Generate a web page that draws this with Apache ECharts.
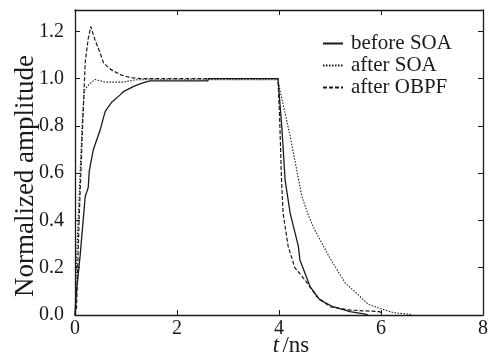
<!DOCTYPE html>
<html>
<head>
	<meta charset="utf-8">
	<title>pulse</title>
	<style>
		html, body { margin: 0; padding: 0; background: #fff; }
		#chart { width: 494px; height: 359px; }
	</style>
</head>
<body>
	<div id="chart"></div>
	<script src="https://cdn.jsdelivr.net/npm/echarts@6/dist/echarts.min.js"></script>
	<script>
		// tick labels
		var xTicks = [0, 2, 4, 6, 8];
		var yTicks = [0.0, 0.2, 0.4, 0.6, 0.8, 1.0, 1.2];

		// before SOA (solid)
		var tBefore = [0, 0.03, 0.1, 0.16, 0.2, 0.26, 0.28, 0.36, 0.49, 0.59, 0.72, 0.88, 0.95, 1.14, 1.3, 1.47, 2.6, 2.62, 3.98, 4.06, 4.12, 4.22, 4.38, 4.41, 4.51, 4.61, 4.8, 5.06, 5.39, 5.69, 5.75];
		var vBefore = [0, 0.1, 0.25, 0.40, 0.5, 0.54, 0.61, 0.70, 0.78, 0.86, 0.90, 0.93, 0.945, 0.966, 0.98, 0.99, 0.99, 1.0, 1.0, 0.78, 0.57, 0.43, 0.29, 0.233, 0.177, 0.12, 0.064, 0.035, 0.014, 0.004, 0];

		// after SOA (dotted)
		var tSoa = [0, 0.04, 0.1, 0.14, 0.18, 0.25, 0.39, 0.6, 0.95, 1.2, 3.98, 4.02, 4.22, 4.35, 4.45, 4.58, 4.7, 5.0, 5.3, 5.59, 5.75, 5.95, 6.24, 6.57, 6.6];
		var vSoa = [0, 0.29, 0.6, 0.8, 0.95, 0.97, 0.996, 0.985, 0.985, 0.995, 0.995, 0.95, 0.755, 0.61, 0.5, 0.42, 0.36, 0.24, 0.135, 0.078, 0.045, 0.03, 0.01, 0.003, 0];

		// after OBPF (dashed)
		var tObpf = [0, 0.03, 0.08, 0.15, 0.2, 0.26, 0.31, 0.39, 0.49, 0.56, 0.69, 0.88, 1.08, 1.3, 3.98, 4.01, 4.05, 4.08, 4.18, 4.31, 4.51, 4.74, 5.0, 5.39, 5.98, 6.0];
		var vObpf = [0, 0.03, 0.4, 0.8, 1.07, 1.17, 1.22, 1.165, 1.11, 1.066, 1.04, 1.017, 1.004, 1.0, 1.0, 0.85, 0.57, 0.43, 0.29, 0.2, 0.148, 0.078, 0.035, 0.021, 0.014, 0];

		function pairs(t, v) {
			var out = [];
			for (var i = 0; i < t.length; i++) {
				out.push([t[i], v[i]]);
			}
			return out;
		}

		var FONT = 'Liberation Serif';
		var INK = '#1a1a1a';

		var myChart = echarts.init(document.getElementById('chart'));

		var axisCommon = {
			axisLine: { show: true, onZero: false, lineStyle: { color: INK, width: 1.3 } },
			axisTick: { show: true, inside: true, length: 5, lineStyle: { color: INK, width: 1 } },
			splitLine: { show: false }
		};

		var option = {
			animation: false,
			textStyle: { fontFamily: FONT },
			grid: { left: 75, right: 11, top: 10, bottom: 44 },
			legend: {
				orient: 'vertical',
				left: 317,
				top: 28,
				itemWidth: 20,
				itemHeight: 12,
				itemGap: 1,
				itemStyle: { color: 'transparent', borderWidth: 0, opacity: 0 },
				textStyle: { fontFamily: FONT, fontSize: 21, color: INK, lineHeight: 21, padding: [0, 0, 0, 3] },
				data: ['before SOA', 'after SOA', 'after OBPF']
			},
			graphic: [{
				type: 'text',
				x: 26,
				y: 176,
				rotation: Math.PI / 2,
				style: {
					text: 'Normalized amplitude',
					fontFamily: FONT, fontSize: 27, fill: INK,
					align: 'center', verticalAlign: 'middle'
				}
			}, {
				type: 'text',
				x: 291,
				y: 346,
				style: {
					text: '{i|t} {n|/ns}',
					align: 'center', verticalAlign: 'middle',
					rich: {
						i: { fontStyle: 'italic', fontFamily: FONT, fontSize: 23, fill: INK },
						n: { fontFamily: FONT, fontSize: 23, fill: INK }
					}
				}
			}],
			xAxis: [
				echarts.util.merge({
					type: 'value',
					min: xTicks[0],
					max: xTicks[xTicks.length - 1],
					interval: 2,
					position: 'bottom',
					axisLabel: { fontSize: 20, color: INK, margin: 4, fontFamily: FONT }
				}, axisCommon, true),
				echarts.util.merge({
					type: 'value',
					min: xTicks[0],
					max: xTicks[xTicks.length - 1],
					interval: 2,
					position: 'top',
					axisLabel: { show: false }
				}, axisCommon, true)
			],
			yAxis: [
				echarts.util.merge({
					type: 'value',
					min: yTicks[0],
					max: 1.29,
					interval: 0.2,
					position: 'left',
					axisLabel: {
						fontSize: 20, color: INK, margin: 11, fontFamily: FONT,
						showMaxLabel: false,
						formatter: function (v) { return v.toFixed(1); }
					}
				}, axisCommon, true),
				echarts.util.merge({
					type: 'value',
					min: yTicks[0],
					max: 1.29,
					interval: 0.2,
					position: 'right',
					axisLabel: { show: false }
				}, axisCommon, true)
			],
			series: [{
				name: 'before SOA',
				type: 'line',
				showSymbol: false,
				symbol: 'none',
				lineStyle: { color: INK, width: 1.3, type: 'solid' },
				itemStyle: { color: INK },
				data: pairs(tBefore, vBefore)
			}, {
				name: 'after SOA',
				type: 'line',
				showSymbol: false,
				symbol: 'none',
				lineStyle: { color: INK, width: 1.1, type: [1.5, 1.5] },
				itemStyle: { color: INK },
				data: pairs(tSoa, vSoa)
			}, {
				name: 'after OBPF',
				type: 'line',
				showSymbol: false,
				symbol: 'none',
				lineStyle: { color: INK, width: 1.2, type: [4, 2] },
				itemStyle: { color: INK },
				data: pairs(tObpf, vObpf)
			}]
		};
		myChart.setOption(option);
	</script>
</body>
</html>
